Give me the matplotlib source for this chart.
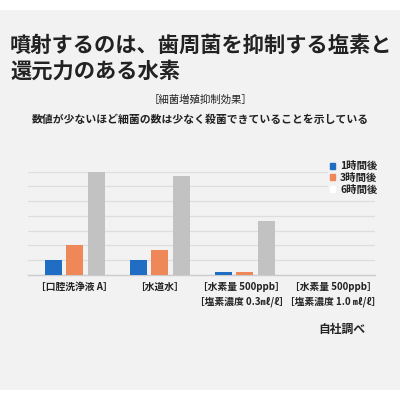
import numpy as np
import matplotlib
matplotlib.use('Agg')
import matplotlib.pyplot as plt
import matplotlib.transforms as mtransforms
from matplotlib.patches import Rectangle

plt.rcParams['font.family'] = ['Noto Sans CJK JP', 'DejaVu Sans']

# データ
categories = ['［口腔洗浄液 A］', '［水道水］',
              '［水素量 500ppb］\n［塩素濃度 0.3㎖/ℓ］',
              '［水素量 500ppb］\n［塩素濃度 1.0 ㎖/ℓ］']
series_names = ['1時間後', '3時間後', '6時間後']
after_1h = [1.0, 1.0, 0.18, 0.0]
after_3h = [2.0, 1.7, 0.18, 0.0]
after_6h = [7.0, 6.7, 3.65, 0.0]

colors = ['#1f6ec4', '#ef8859', '#c2c2c2']
bg = '#f2f2f2'
text_col = '#222222'

fig = plt.figure(figsize=(4, 4), dpi=100)
fig.patch.set_facecolor('white')
fig.add_artist(Rectangle((0, 10 / 400), 1, 380 / 400, transform=fig.transFigure,
                         facecolor=bg, edgecolor='none', zorder=-10))

# タイトル
fig.text(10 / 400, 1 - 45 / 400, '噴射するのは、歯周菌を抑制する塩素と',
         fontsize=15.3, fontweight='bold', color=text_col, va='center', ha='left')
fig.text(10 / 400, 1 - 71 / 400, '還元力のある水素',
         fontsize=15.3, fontweight='bold', color=text_col, va='center', ha='left')
fig.text(0.5, 1 - 100 / 400, '［細菌増殖抑制効果］',
         fontsize=7.5, color=text_col, va='center', ha='center')
fig.text(0.5, 1 - 120 / 400, '数値が少ないほど細菌の数は少なく殺菌できていることを示している',
         fontsize=7.8, fontweight='bold', color=text_col, va='center', ha='center')

ax = fig.add_axes([28 / 400, 125 / 400, 347 / 400, 103.3 / 400])
ax.set_facecolor(bg)

x = np.arange(len(categories))
offsets = [-0.25, 0.0, 0.25]
for vals, off, c, name in zip([after_1h, after_3h, after_6h], offsets, colors, series_names):
    ax.bar(x + off, vals, width=0.2, color=c, label=name, zorder=3)

ax.set_xlim(-0.55, 3.53)
ax.set_ylim(0, 7)
ax.set_yticks(np.arange(0, 8))
ax.yaxis.grid(True, color='#dddddd', linewidth=0.9, zorder=0)
ax.tick_params(axis='y', left=False, labelleft=False)
ax.tick_params(axis='x', bottom=False, labelsize=7, labelcolor=text_col, pad=1.5)
ax.set_xticks(x)
ax.set_xticklabels(categories, linespacing=1.55, fontweight='bold')
# 3番目と4番目のラベルを少し離す
labels = ax.get_xticklabels()
for lab, dx in [(labels[2], -3), (labels[3], 3)]:
    lab.set_transform(lab.get_transform() +
                      mtransforms.ScaledTranslation(dx / 100, 0, fig.dpi_scale_trans))
for s in ['top', 'right', 'left']:
    ax.spines[s].set_visible(False)
ax.spines['bottom'].set_color('#cccccc')
ax.spines['bottom'].set_linewidth(1.0)

# 凡例（6時間後のマーカーは白）
handles = [Rectangle((0, 0), 1, 1, color=colors[0]),
           Rectangle((0, 0), 1, 1, color=colors[1]),
           Rectangle((0, 0), 1, 1, color='white')]
leg = ax.legend(handles, series_names, loc='upper left',
                bbox_to_anchor=(323 / 400, 1 - 154 / 400), bbox_transform=fig.transFigure,
                frameon=True, facecolor=bg, edgecolor='none', framealpha=1,
                fontsize=7.5, handlelength=0.5, handleheight=0.5, handletextpad=0.45,
                labelspacing=0.15, borderpad=0.2)
for t in leg.get_texts():
    t.set_fontweight('bold')
    t.set_color(text_col)

fig.text(365 / 400, 1 - 329 / 400, '自社調べ', fontsize=8.5, fontweight='bold',
         color=text_col, va='center', ha='right')

fig.savefig('out.png', dpi=100)
